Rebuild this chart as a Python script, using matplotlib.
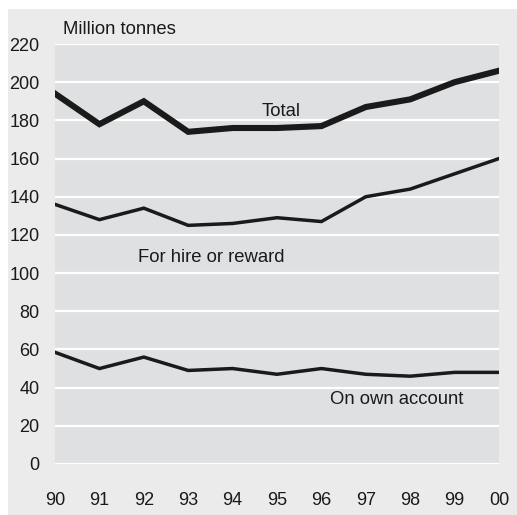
import matplotlib
matplotlib.use("Agg")
import matplotlib.pyplot as plt
from matplotlib.patches import Rectangle

years = ["90", "91", "92", "93", "94", "95", "96", "97", "98", "99", "00"]
total = [194, 178, 190, 174, 176, 176, 177, 187, 191, 200, 206]
hire = [136, 128, 134, 125, 126, 129, 127, 140, 144, 152, 160]
own = [58.5, 50, 56, 49, 50, 47, 50, 47, 46, 48, 48]
yticks = list(range(0, 221, 20))

plt.rcParams['font.family'] = ['Liberation Sans Narrow', 'Liberation Sans', 'DejaVu Sans']

W, H = 517, 515
fig = plt.figure(figsize=(W / 100, H / 100), dpi=100, facecolor="white")
fig.patches.append(Rectangle((8 / W, 0), 1 - 8 / W, 1 - 9 / H, transform=fig.transFigure,
                             facecolor="#ebebec", edgecolor="none", zorder=-5))

ax = fig.add_axes([55 / W, 1 - 464 / H, 444 / W, 420 / H])
ax.set_zorder(2)
ax.set_facecolor("#dfe0e2")
x = list(range(len(years)))
ax.plot(x, total, color="#1a1a1a", lw=4.4, solid_joinstyle="miter", zorder=3)
ax.plot(x, hire, color="#1a1a1a", lw=2.5, solid_joinstyle="miter", zorder=3)
ax.plot(x, own, color="#1a1a1a", lw=2.5, solid_joinstyle="miter", zorder=3)

ax.set_xlim(0, len(years) - 1)
ax.set_ylim(0, 220)
ax.set_yticks(yticks)
ax.set_xticks(x)
ax.set_xticklabels(years)
for s in ax.spines.values():
    s.set_visible(False)
ax.grid(axis="y", color="white", lw=1.6, zorder=1)
ax.grid(axis="x", visible=False)
ax.set_axisbelow(True)
ax.tick_params(axis="both", length=0, labelsize=13, colors="#1a1a1a")
ax.tick_params(axis="y", pad=11)
ax.tick_params(axis="x", pad=20)
for lbl in ax.get_yticklabels():
    lbl.set_clip_on(False)

fs = 13.3
fig.text(63 / W, 1 - 29 / H, "Million tonnes", fontsize=fs, color="#1a1a1a", va="center", ha="left", zorder=5)
ax.text(4.66, 180, "Total", fontsize=fs, color="#1a1a1a", va="bottom", ha="left")
ax.text(1.86, 108, "For hire or reward", fontsize=fs, color="#1a1a1a", va="center", ha="left")
ax.text(6.2, 34, "On own account", fontsize=fs, color="#1a1a1a", va="center", ha="left")

fig.savefig("out.png", dpi=100, facecolor="white")
